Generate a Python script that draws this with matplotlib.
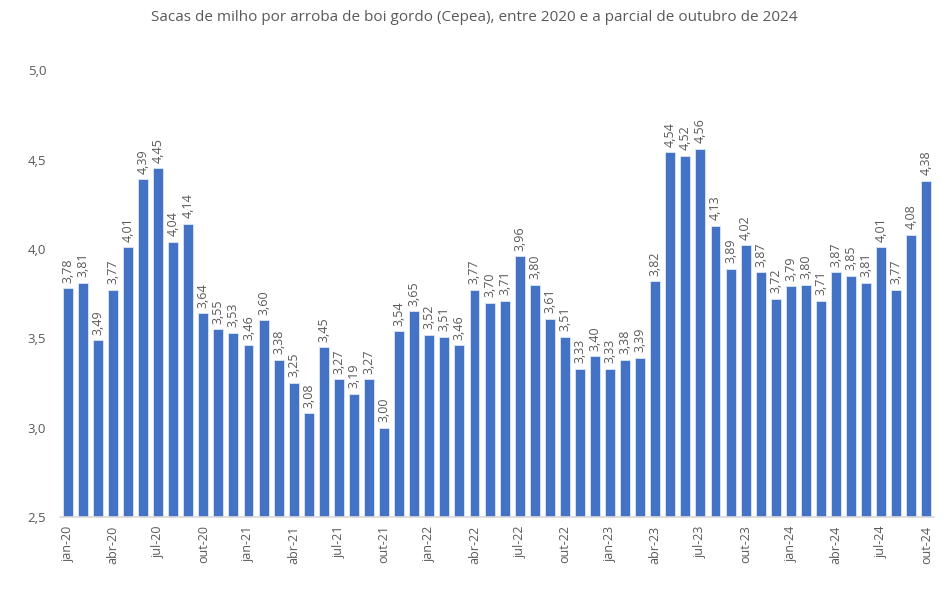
import matplotlib
matplotlib.use("Agg")
import matplotlib.pyplot as plt

plt.rcParams["font.family"] = ["Open Sans", "DejaVu Sans"]

# ── data ─────────────────────────────────────────────
meses = ["jan", "fev", "mar", "abr", "mai", "jun",
         "jul", "ago", "set", "out", "nov", "dez"]
anos = ["20", "21", "22", "23", "24"]
labels = [f"{m}-{a}" for a in anos for m in meses][:58]

valores = [
    3.78, 3.81, 3.49, 3.77, 4.01, 4.39, 4.45, 4.04, 4.14, 3.64, 3.55, 3.53,
    3.46, 3.60, 3.38, 3.25, 3.08, 3.45, 3.27, 3.19, 3.27, 3.00, 3.54, 3.65,
    3.52, 3.51, 3.46, 3.77, 3.70, 3.71, 3.96, 3.80, 3.61, 3.51, 3.33, 3.40,
    3.33, 3.38, 3.39, 3.82, 4.54, 4.52, 4.56, 4.13, 3.89, 4.02, 3.87, 3.72,
    3.79, 3.80, 3.71, 3.87, 3.85, 3.81, 4.01, 3.77, 4.08, 4.38,
]
y_ticks = [2.5, 3.0, 3.5, 4.0, 4.5, 5.0]

titulo = ("Sacas de milho por arroba de boi gordo (Cepea), "
          "entre 2020 e a parcial de outubro de 2024")

# ── figure ───────────────────────────────────────────
cinza = "#595959"
fig = plt.figure(figsize=(9.48, 5.89), dpi=100)
ax = fig.add_axes([0.0635, 0.122, 0.9217, 0.759])

x = list(range(len(valores)))
bars = ax.bar(x, [v - 2.5 for v in valores], bottom=2.5, width=0.66,
              color="#4472C4", edgecolor="#dce6f5", linewidth=0.6)

for xi, v in zip(x, valores):
    ax.annotate(f"{v:.2f}".replace(".", ","), (xi, v), xytext=(0, 4),
                textcoords="offset points", rotation=90,
                ha="center", va="bottom", fontsize=9, color=cinza)

ax.set_xlim(-0.5, len(valores) - 0.5)
ax.set_ylim(2.5, 5.0)
ax.set_yticks(y_ticks)
ax.set_yticklabels([f"{t:.1f}".replace(".", ",") for t in y_ticks],
                   fontsize=9.5, color=cinza)
ax.set_xticks(x[::3])
ax.set_xticklabels(labels[::3], rotation=90, fontsize=9, color=cinza)
ax.tick_params(axis="both", length=0)
ax.tick_params(axis="x", pad=6)
ax.tick_params(axis="y", pad=10)

for s in ["top", "right", "left"]:
    ax.spines[s].set_visible(False)
ax.spines["bottom"].set_color("#d9d9d9")
ax.spines["bottom"].set_linewidth(1.2)

fig.suptitle(titulo, x=0.5, y=0.983, fontsize=11, color=cinza)

fig.savefig("out.png", dpi=100)
